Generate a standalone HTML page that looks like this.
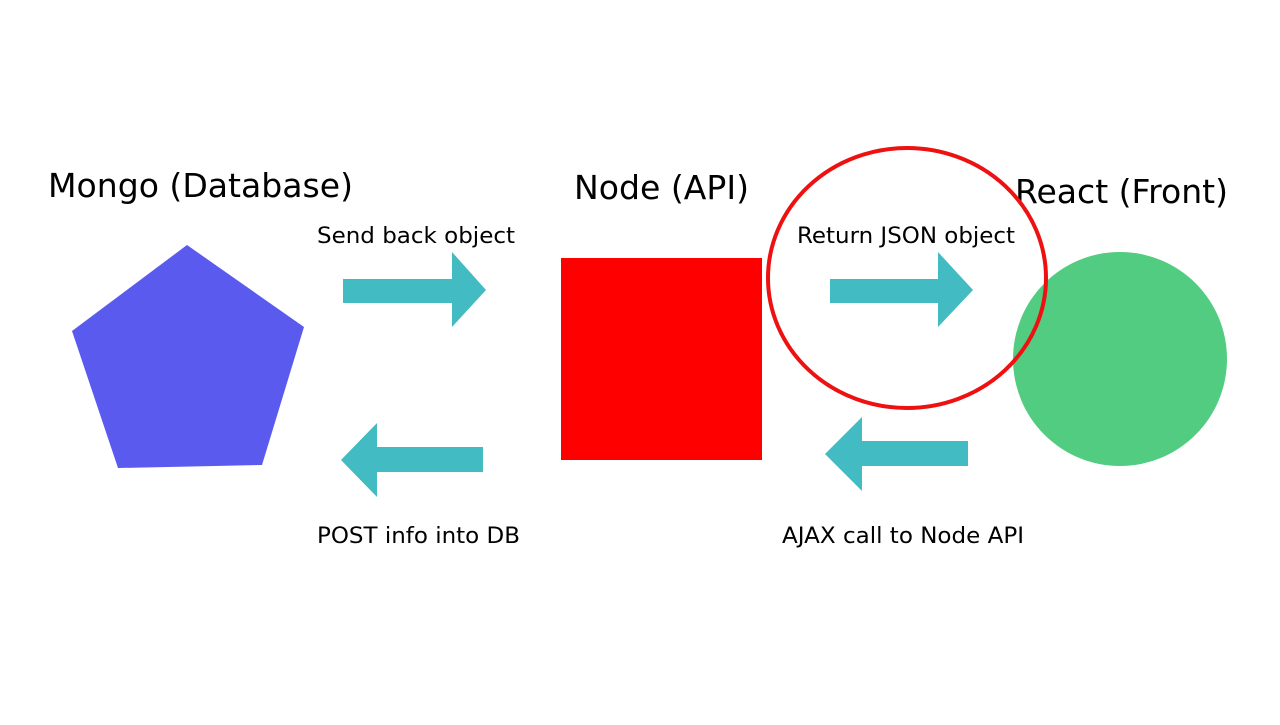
<!DOCTYPE html>
<html><head><style>
html,body{margin:0;padding:0;background:#fff;}
svg text{font-family:"DejaVu Sans","Liberation Sans",sans-serif;fill:#000;}
</style></head><body>
<svg width="1280" height="720" viewBox="0 0 1280 720" xmlns="http://www.w3.org/2000/svg">
<rect width="1280" height="720" fill="#fff"/>
<text x="48" y="197" font-size="33" textLength="305" lengthAdjust="spacingAndGlyphs">Mongo (Database)</text>
<text x="574" y="199" font-size="33" textLength="175" lengthAdjust="spacingAndGlyphs">Node (API)</text>
<text x="1015" y="203" font-size="33" textLength="213" lengthAdjust="spacingAndGlyphs">React (Front)</text>
<text x="317" y="243" font-size="22.5" textLength="198" lengthAdjust="spacingAndGlyphs">Send back object</text>
<text x="797" y="243" font-size="22.5" textLength="218" lengthAdjust="spacingAndGlyphs">Return JSON object</text>
<text x="317" y="543" font-size="22.5" textLength="203" lengthAdjust="spacingAndGlyphs">POST info into DB</text>
<text x="782" y="543" font-size="22.5" textLength="242" lengthAdjust="spacingAndGlyphs">AJAX call to Node API</text>
<polygon points="187,245 304,327 262,465 118,468 72,331" fill="#5a5aee"/>
<rect x="561" y="258" width="201" height="202" fill="#ff0000"/>
<circle cx="1120" cy="359" r="107" fill="#52cc80"/>
<g fill="#42bbc2">
<polygon points="343,279 452,279 452,252 486,290 452,327 452,303 343,303"/>
<polygon points="830,279 938,279 938,252 973,290 938,327 938,303 830,303"/>
<polygon points="483,447 377,447 377,423 341,460 377,497 377,472 483,472"/>
<polygon points="968,441 862,441 862,417 825,454 862,491 862,466 968,466"/>
</g>
<ellipse cx="907" cy="278" rx="139" ry="130" fill="none" stroke="#ee1111" stroke-width="4"/>
</svg>
</body></html>
